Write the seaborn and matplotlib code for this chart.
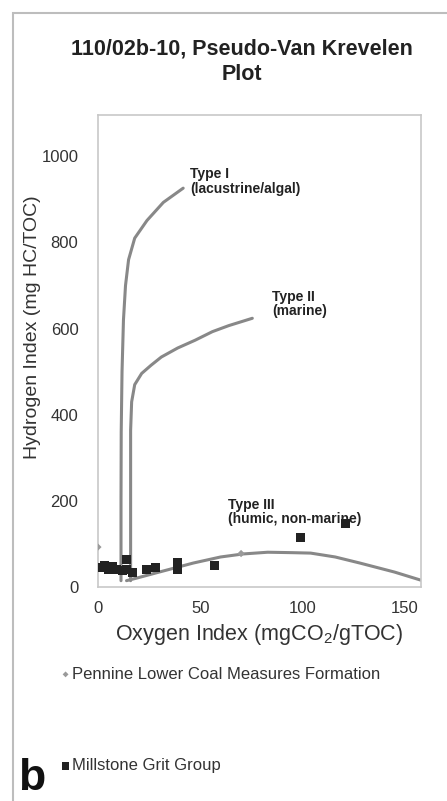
import matplotlib
matplotlib.use('Agg')
import matplotlib.pyplot as plt
from matplotlib.patches import Rectangle
import numpy as np
import pandas as pd
import seaborn as sns

# --- data ---
type1_oi = [11.3, 11.3, 11.4, 11.8, 12.5, 13.5, 15, 18, 24, 32, 41.7]
type1_hi = [15, 200, 360, 500, 620, 700, 760, 810, 851, 893, 926]

type2_oi = [16, 16, 16, 16.5, 18, 21.4, 26, 31, 39, 47.5, 56, 64, 75.5]
type2_hi = [15, 200, 364, 430, 470, 496, 515, 534, 555, 573, 593, 607, 624]

type3_oi = [14, 19, 30, 46.7, 60, 71, 83, 95, 104, 116, 128, 145, 158]
type3_hi = [15, 21, 35, 56, 70, 77, 81, 80, 79, 70, 56, 35, 16]

grit_oi = [1, 3, 5, 7, 9, 12, 14, 14, 17, 24, 28, 39, 39, 57, 99, 121]
grit_hi = [45, 50, 40, 48, 42, 38, 65, 40, 35, 42, 45, 58, 40, 50, 115, 148]

coal_oi = [0, 70]
coal_hi = [93, 78]

curve_labels = ['Type I\n(lacustrine/algal)', 'Type II\n(marine)', 'Type III\n(humic, non-marine)']
curve_label_pos = [(45, 975), (85, 690), (63.5, 208)]

sns.set_theme(style='white')
plt.rcParams['font.family'] = ['Liberation Sans', 'DejaVu Sans']
plt.rcParams['mathtext.default'] = 'regular'

fig = plt.figure(figsize=(4.47, 8.01), dpi=100)
ax = fig.add_axes([0.219, 0.267, 0.723, 0.589])

curves = pd.concat([
    pd.DataFrame({'oi': type1_oi, 'hi': type1_hi, 'kind': 'I'}),
    pd.DataFrame({'oi': type2_oi, 'hi': type2_hi, 'kind': 'II'}),
    pd.DataFrame({'oi': type3_oi, 'hi': type3_hi, 'kind': 'III'}),
])
sns.lineplot(data=curves, x='oi', y='hi', units='kind', estimator=None, sort=False,
             color='#888888', lw=2.2, ax=ax, legend=False)

sns.scatterplot(x=coal_oi, y=coal_hi, marker='D', s=14, color='#9a9a9a',
                edgecolor='none', ax=ax, label='Pennine Lower Coal Measures Formation', zorder=4)
sns.scatterplot(x=grit_oi, y=grit_hi, marker='s', s=42, color='#222222',
                edgecolor='none', ax=ax, label='Millstone Grit Group', zorder=5)

for txt, (x, y) in zip(curve_labels, curve_label_pos):
    ax.text(x, y, txt, fontsize=10, fontweight='bold', color='#222222',
            va='top', ha='left', linespacing=1.05)

ax.set_xlim(0, 158)
ax.set_ylim(0, 1095)
ax.set_xticks([0, 50, 100, 150])
ax.set_yticks([0, 200, 400, 600, 800, 1000])
ax.tick_params(axis='x', labelsize=12, colors='#333333', length=0, pad=10)
ax.tick_params(axis='y', labelsize=12, colors='#333333', length=0, pad=14)
for s in ax.spines.values():
    s.set_color('#c8c8c8')
    s.set_linewidth(1.2)

ax.set_xlabel('Oxygen Index (mgCO$_2$/gTOC)', fontsize=15.5, color='#333333', labelpad=4)
ax.set_ylabel('Hydrogen Index (mg HC/TOC)', fontsize=14, color='#333333')
ax.yaxis.set_label_coords(-0.175, 0.55)

fig.text(0.541, 0.952, '110/02b-10, Pseudo-Van Krevelen\nPlot', ha='center', va='top',
         fontsize=15.5, fontweight='bold', color='#222222', linespacing=1.3)

handles, labels = ax.get_legend_handles_labels()
ax.get_legend().remove()
fig.legend(handles, labels, loc='upper left', bbox_to_anchor=(0.115, 0.178),
           frameon=False, fontsize=12, labelspacing=4.6, handletextpad=0.05,
           handlelength=0.7, markerscale=0.8, labelcolor='#333333', borderpad=0)

fig.text(0.04, 0.014, 'b', fontsize=32, fontweight='bold', color='#111111',
         ha='left', va='baseline')

fig.patches.append(Rectangle((0.028, -0.1), 1.2, 1.084, transform=fig.transFigure,
                             fill=False, edgecolor='#bdbdbd', lw=1.5))

fig.savefig('out.png', dpi=100)
